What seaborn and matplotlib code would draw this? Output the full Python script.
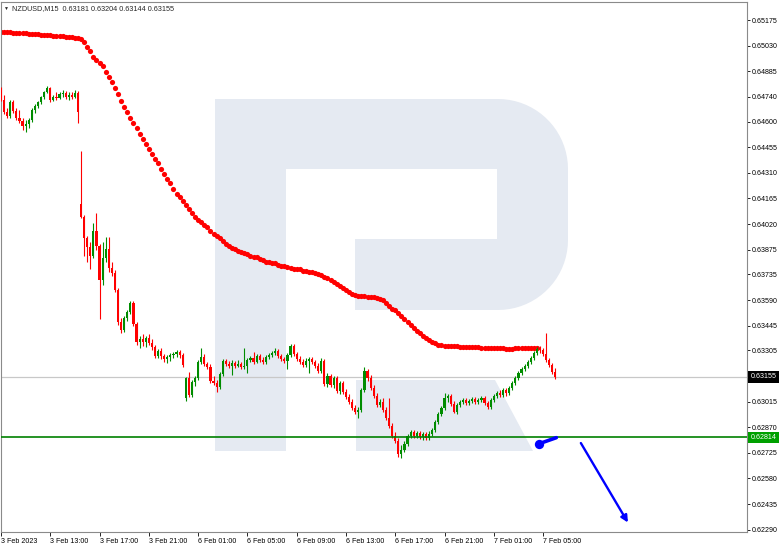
import matplotlib
matplotlib.use("Agg")
import matplotlib.pyplot as plt
from matplotlib.patches import Polygon
import numpy as np
import pandas as pd
import seaborn as sns

symbol = "NZDUSD,M15"

# M15 candles, 3 Feb 2023 09:00 -> 7 Feb 2023 06:00 (weekend skipped)
opens = [
    0.64779, 0.64722, 0.64654, 0.64631, 0.64711, 0.64659, 0.64620, 0.64603, 0.64575, 0.64586,
    0.64609, 0.64665, 0.64688, 0.64711, 0.64739, 0.64768, 0.64790, 0.64722, 0.64739, 0.64734,
    0.64756, 0.64762, 0.64739, 0.64751, 0.64739, 0.64762, 0.64133, 0.64059, 0.63941, 0.63890,
    0.63839, 0.63980, 0.63896, 0.63703, 0.63828, 0.63879, 0.63771, 0.63743, 0.63647, 0.63466,
    0.63420, 0.63488, 0.63522, 0.63573, 0.63454, 0.63353, 0.63369, 0.63353, 0.63375, 0.63347,
    0.63324, 0.63273, 0.63301, 0.63273, 0.63256, 0.63267, 0.63279, 0.63284, 0.63296, 0.63279,
    0.63036, 0.63149, 0.63053, 0.63126, 0.63149, 0.63239, 0.63267, 0.63227, 0.63210, 0.63131,
    0.63120, 0.63097, 0.63171, 0.63244, 0.63227, 0.63216, 0.63233, 0.63216, 0.63227, 0.63210,
    0.63216, 0.63250, 0.63262, 0.63239, 0.63273, 0.63250, 0.63239, 0.63267, 0.63279, 0.63290,
    0.63301, 0.63273, 0.63256, 0.63244, 0.63279, 0.63330, 0.63284, 0.63256, 0.63239, 0.63222,
    0.63244, 0.63256, 0.63239, 0.63216, 0.63188, 0.63244, 0.63114, 0.63160, 0.63109, 0.63149,
    0.63075, 0.63120, 0.63070, 0.63041, 0.63013, 0.62979, 0.62956, 0.62967, 0.63081, 0.63188,
    0.63149, 0.63092, 0.63047, 0.62996, 0.63013, 0.62967, 0.62922, 0.62877, 0.62820, 0.62792,
    0.62718, 0.62741, 0.62775, 0.62820, 0.62843, 0.62820, 0.62837, 0.62814, 0.62831, 0.62809,
    0.62831, 0.62854, 0.62899, 0.62944, 0.62979, 0.63036, 0.63047, 0.63001, 0.62956, 0.62996,
    0.63013, 0.63024, 0.63007, 0.63018, 0.63030, 0.63013, 0.63024, 0.63036, 0.63007, 0.62984,
    0.63024, 0.63047, 0.63064, 0.63053, 0.63081, 0.63064, 0.63092, 0.63120, 0.63149, 0.63177,
    0.63199, 0.63216, 0.63239, 0.63262, 0.63290, 0.63313, 0.63307, 0.63284, 0.63250, 0.63222,
    0.63181,
]
highs = [
    0.64795, 0.64751, 0.64677, 0.64722, 0.64722, 0.64677, 0.64665, 0.64620, 0.64609, 0.64620,
    0.64677, 0.64699, 0.64716, 0.64745, 0.64773, 0.64801, 0.64795, 0.64751, 0.64768, 0.64768,
    0.64779, 0.64773, 0.64768, 0.64768, 0.64779, 0.64773, 0.64433, 0.64071, 0.63952, 0.63919,
    0.64026, 0.64082, 0.63907, 0.63919, 0.63946, 0.63946, 0.63805, 0.63760, 0.63658, 0.63488,
    0.63499, 0.63533, 0.63584, 0.63584, 0.63466, 0.63386, 0.63397, 0.63386, 0.63397, 0.63369,
    0.63336, 0.63313, 0.63319, 0.63284, 0.63279, 0.63290, 0.63296, 0.63307, 0.63307, 0.63290,
    0.63154, 0.63182, 0.63137, 0.63160, 0.63250, 0.63319, 0.63284, 0.63239, 0.63227, 0.63160,
    0.63137, 0.63182, 0.63256, 0.63256, 0.63244, 0.63250, 0.63244, 0.63250, 0.63239, 0.63319,
    0.63262, 0.63273, 0.63296, 0.63284, 0.63284, 0.63267, 0.63279, 0.63290, 0.63301, 0.63319,
    0.63313, 0.63284, 0.63267, 0.63290, 0.63341, 0.63341, 0.63296, 0.63273, 0.63256, 0.63262,
    0.63267, 0.63267, 0.63250, 0.63233, 0.63262, 0.63256, 0.63177, 0.63171, 0.63160, 0.63160,
    0.63131, 0.63131, 0.63086, 0.63058, 0.63030, 0.62996, 0.62984, 0.63092, 0.63210, 0.63199,
    0.63166, 0.63109, 0.63064, 0.63030, 0.63036, 0.62984, 0.63036, 0.62894, 0.62843, 0.62809,
    0.62769, 0.62792, 0.62831, 0.62854, 0.62854, 0.62848, 0.62848, 0.62843, 0.62843, 0.62848,
    0.62866, 0.62911, 0.62956, 0.62990, 0.63064, 0.63058, 0.63058, 0.63018, 0.63007, 0.63024,
    0.63036, 0.63036, 0.63030, 0.63041, 0.63041, 0.63036, 0.63047, 0.63047, 0.63018, 0.63036,
    0.63058, 0.63075, 0.63081, 0.63092, 0.63092, 0.63103, 0.63131, 0.63160, 0.63188, 0.63210,
    0.63227, 0.63250, 0.63273, 0.63301, 0.63324, 0.63330, 0.63319, 0.63403, 0.63262, 0.63233,
    0.63204,
]
lows = [
    0.64716, 0.64642, 0.64620, 0.64620, 0.64648, 0.64609, 0.64592, 0.64552, 0.64541, 0.64564,
    0.64598, 0.64648, 0.64677, 0.64699, 0.64728, 0.64762, 0.64711, 0.64716, 0.64722, 0.64728,
    0.64739, 0.64728, 0.64722, 0.64728, 0.64734, 0.64592, 0.64054, 0.63839, 0.63805, 0.63765,
    0.63828, 0.63873, 0.63482, 0.63675, 0.63805, 0.63749, 0.63726, 0.63636, 0.63449, 0.63403,
    0.63409, 0.63471, 0.63510, 0.63443, 0.63336, 0.63319, 0.63330, 0.63324, 0.63336, 0.63307,
    0.63262, 0.63262, 0.63256, 0.63239, 0.63233, 0.63244, 0.63262, 0.63267, 0.63262, 0.63210,
    0.63018, 0.63041, 0.63041, 0.63103, 0.63137, 0.63227, 0.63216, 0.63199, 0.63120, 0.63109,
    0.63070, 0.63086, 0.63160, 0.63216, 0.63205, 0.63166, 0.63205, 0.63210, 0.63199, 0.63199,
    0.63177, 0.63239, 0.63227, 0.63233, 0.63239, 0.63227, 0.63227, 0.63256, 0.63267, 0.63279,
    0.63262, 0.63244, 0.63233, 0.63199, 0.63267, 0.63273, 0.63244, 0.63227, 0.63210, 0.63210,
    0.63177, 0.63227, 0.63205, 0.63177, 0.63177, 0.63103, 0.63097, 0.63097, 0.63092, 0.63064,
    0.63058, 0.63058, 0.63030, 0.63001, 0.62967, 0.62944, 0.62922, 0.62956, 0.63070, 0.63131,
    0.63081, 0.63036, 0.62984, 0.62984, 0.62956, 0.62911, 0.62866, 0.62809, 0.62781, 0.62701,
    0.62696, 0.62730, 0.62764, 0.62809, 0.62809, 0.62809, 0.62803, 0.62798, 0.62798, 0.62798,
    0.62820, 0.62843, 0.62888, 0.62933, 0.62967, 0.63013, 0.62990, 0.62950, 0.62944, 0.62984,
    0.63001, 0.62996, 0.62996, 0.63007, 0.63001, 0.63001, 0.63013, 0.62996, 0.62973, 0.62973,
    0.63013, 0.63036, 0.63041, 0.63041, 0.63047, 0.63053, 0.63081, 0.63109, 0.63137, 0.63166,
    0.63188, 0.63205, 0.63227, 0.63250, 0.63279, 0.63290, 0.63273, 0.63239, 0.63210, 0.63171,
    0.63144,
]
closes = [
    0.64722, 0.64654, 0.64631, 0.64711, 0.64659, 0.64620, 0.64603, 0.64575, 0.64586, 0.64609,
    0.64665, 0.64688, 0.64711, 0.64739, 0.64768, 0.64790, 0.64722, 0.64739, 0.64734, 0.64756,
    0.64762, 0.64739, 0.64751, 0.64739, 0.64762, 0.64654, 0.64059, 0.63941, 0.63890, 0.63839,
    0.63980, 0.63896, 0.63703, 0.63828, 0.63879, 0.63771, 0.63743, 0.63647, 0.63466, 0.63420,
    0.63488, 0.63522, 0.63573, 0.63454, 0.63353, 0.63369, 0.63353, 0.63375, 0.63347, 0.63324,
    0.63273, 0.63301, 0.63273, 0.63256, 0.63267, 0.63279, 0.63284, 0.63296, 0.63279, 0.63222,
    0.63149, 0.63053, 0.63126, 0.63149, 0.63239, 0.63267, 0.63227, 0.63210, 0.63131, 0.63120,
    0.63097, 0.63171, 0.63244, 0.63227, 0.63216, 0.63233, 0.63216, 0.63227, 0.63210, 0.63216,
    0.63250, 0.63262, 0.63239, 0.63273, 0.63250, 0.63239, 0.63267, 0.63279, 0.63290, 0.63301,
    0.63273, 0.63256, 0.63244, 0.63279, 0.63330, 0.63284, 0.63256, 0.63239, 0.63222, 0.63244,
    0.63256, 0.63239, 0.63216, 0.63188, 0.63244, 0.63114, 0.63160, 0.63109, 0.63149, 0.63075,
    0.63120, 0.63070, 0.63041, 0.63013, 0.62979, 0.62956, 0.62967, 0.63081, 0.63188, 0.63149,
    0.63092, 0.63047, 0.62996, 0.63013, 0.62967, 0.62922, 0.62877, 0.62820, 0.62792, 0.62718,
    0.62741, 0.62775, 0.62820, 0.62843, 0.62820, 0.62837, 0.62814, 0.62831, 0.62809, 0.62831,
    0.62854, 0.62899, 0.62944, 0.62979, 0.63036, 0.63047, 0.63001, 0.62956, 0.62996, 0.63013,
    0.63024, 0.63007, 0.63018, 0.63030, 0.63013, 0.63024, 0.63036, 0.63007, 0.62984, 0.63024,
    0.63047, 0.63064, 0.63053, 0.63081, 0.63064, 0.63092, 0.63120, 0.63149, 0.63177, 0.63199,
    0.63216, 0.63239, 0.63262, 0.63290, 0.63313, 0.63307, 0.63284, 0.63250, 0.63222, 0.63182,
    0.63155,
]
# moving average (red dots), one value per bar
ma = [
    0.65107, 0.65107, 0.65107, 0.65107, 0.65104, 0.65101, 0.65101, 0.65101, 0.65101, 0.65098,
    0.65096, 0.65096, 0.65096, 0.65093, 0.65090, 0.65090, 0.65090, 0.65087, 0.65084, 0.65084,
    0.65084, 0.65081, 0.65079, 0.65079, 0.65076, 0.65073, 0.65067, 0.65050, 0.65025, 0.64997,
    0.64968, 0.64951, 0.64931, 0.64912, 0.64883, 0.64855, 0.64824, 0.64793, 0.64756, 0.64716,
    0.64685, 0.64654, 0.64620, 0.64592, 0.64566, 0.64532, 0.64504, 0.64476, 0.64447, 0.64416,
    0.64391, 0.64363, 0.64334, 0.64303, 0.64275, 0.64252, 0.64221, 0.64193, 0.64173, 0.64150,
    0.64128, 0.64105, 0.64082, 0.64059, 0.64043, 0.64029, 0.64017, 0.64003, 0.63983, 0.63966,
    0.63955, 0.63941, 0.63927, 0.63910, 0.63898, 0.63887, 0.63879, 0.63870, 0.63862, 0.63856,
    0.63848, 0.63842, 0.63836, 0.63831, 0.63822, 0.63816, 0.63808, 0.63805, 0.63799, 0.63797,
    0.63791, 0.63785, 0.63782, 0.63777, 0.63774, 0.63768, 0.63765, 0.63763, 0.63757, 0.63754,
    0.63751, 0.63748, 0.63743, 0.63740, 0.63731, 0.63723, 0.63713, 0.63703, 0.63692, 0.63681,
    0.63669, 0.63658, 0.63647, 0.63635, 0.63627, 0.63621, 0.63615, 0.63613, 0.63613, 0.63610,
    0.63610, 0.63607, 0.63601, 0.63596, 0.63590, 0.63573, 0.63556, 0.63542, 0.63531, 0.63516,
    0.63499, 0.63483, 0.63465, 0.63449, 0.63432, 0.63417, 0.63403, 0.63389, 0.63375, 0.63364,
    0.63352, 0.63344, 0.63338, 0.63335, 0.63332, 0.63332, 0.63330, 0.63330, 0.63330, 0.63327,
    0.63327, 0.63324, 0.63324, 0.63324, 0.63324, 0.63324, 0.63321, 0.63321, 0.63321, 0.63321,
    0.63318, 0.63318, 0.63318, 0.63318, 0.63315, 0.63315, 0.63315, 0.63318, 0.63318, 0.63318,
    0.63318, 0.63318, 0.63318, 0.63318, 0.63318,
]

price_ticks = [0.65175, 0.65030, 0.64885, 0.64740, 0.64600, 0.64455, 0.64310, 0.64165,
               0.64020, 0.63875, 0.63735, 0.63590, 0.63445, 0.63305, 0.63015, 0.62870,
               0.62725, 0.62580, 0.62435, 0.62290]
support_level = 0.62814

# forecast arrow and hand-drawn mark (bar index, price)
arrow_start = (187.8, 0.62794)
arrow_end = (204.0, 0.62317)
mark_start = (174.6, 0.62776)
mark_end = (180.3, 0.62811)

RED = "#ff0000"
GREEN = "#008c00"
WM = "#e5eaf2"

sns.set_style("white")
plt.rcParams["font.family"] = ["Liberation Sans", "DejaVu Sans"]

W, H = 782, 549
fig = plt.figure(figsize=(W / 100, H / 100), dpi=100)
ax = fig.add_axes([0.5 / W, (H - 532) / H, 746.5 / W, 530 / H])
ax.set_facecolor("white")

# time axis
friday = pd.date_range("2023-02-03 09:00", periods=60, freq="15min")
monday = pd.date_range("2023-02-06 00:00", periods=len(closes) - 60, freq="15min")
times = friday.append(monday)

df = pd.DataFrame({"open": opens, "high": highs, "low": lows, "close": closes})
df["bar"] = np.arange(len(df))
up = df["close"] >= df["open"]
colors = np.where(up, GREEN, RED)

# watermark "R" in figure pixels
def px(pts):
    return [(x / W, 1 - y / H) for x, y in pts]

t1 = np.linspace(np.pi / 2, 0, 20)
t2 = np.linspace(0, -np.pi / 2, 20)
bowl = [(497, 99)] + [(498 + 70 * np.cos(t), 169 - 70 * np.sin(t)) for t in t1] \
    + [(498 + 70 * np.cos(t), 240 - 70 * np.sin(t)) for t in t2] + [(497, 310)]
shapes = [
    [(215, 99), (286, 99), (286, 451), (215, 451)],
    [(285, 99), (499, 99), (499, 169), (285, 169)],
    [(355, 239), (499, 239), (499, 310), (355, 310)],
    bowl,
    [(356, 380), (495, 380), (533, 451), (356, 451)],
]
for s in shapes:
    ax.add_patch(Polygon(px(s), closed=True, transform=fig.transFigure,
                         fc=WM, ec="none", zorder=0))

# current price line
ax.axhline(closes[-1], color="#c8c8c8", lw=0.9, zorder=1)

# moving average dots
sns.scatterplot(x=np.arange(len(ma)), y=ma, color=RED, s=14, linewidth=0,
                ax=ax, zorder=2, legend=False)

# candles
ax.vlines(df["bar"], df["low"], df["high"], colors=colors, lw=0.8, zorder=3)
body = (df["close"] - df["open"]).abs().clip(lower=0.00005)
ax.bar(df["bar"], body, bottom=df[["open", "close"]].min(axis=1), width=0.7,
       color=colors, lw=0, zorder=4)

ax.axhline(support_level, color="#008000", lw=1.2, zorder=5)

# blue drawings
ax.plot([mark_start[0], mark_end[0]], [mark_start[1], mark_end[1]], color="#0000ff",
        lw=2.6, solid_capstyle="round", zorder=6)
ax.scatter([mark_start[0]], [mark_start[1]], s=45, color="#0000ff", lw=0, zorder=6)
ax.annotate("", xy=arrow_end, xytext=arrow_start,
            arrowprops=dict(arrowstyle="-|>", color="#0000ff", lw=1.7, mutation_scale=10),
            zorder=6)

ax.set_xlim(-0.16, 242.2)
ax.set_ylim(0.62277, 0.65277)

# axes styling
for side in ["left", "right", "top", "bottom"]:
    ax.spines[side].set_color("#8a8a8a")
    ax.spines[side].set_linewidth(0.8)

tick_idx = [i for i, t in enumerate(times) if t.minute == 0 and t.hour % 4 == 1]
tick_lbl = []
for k, i in enumerate(tick_idx):
    t = times[i]
    tick_lbl.append(f"{t.day} {t:%b %Y}" if k == 0 else f"{t.day} {t:%b %H:%M}")
ax.set_xticks(tick_idx)
ax.set_xticklabels(tick_lbl, ha="left")

ax.yaxis.tick_right()
ax.set_yticks(price_ticks)
ax.set_yticklabels([f"{p:.5f}" for p in price_ticks])
ax.tick_params(axis="x", direction="out", length=3, width=0.6, pad=1.5,
               labelsize=5.1, colors="black", bottom=True)
ax.tick_params(axis="y", direction="out", length=2.2, width=0.6, pad=1.5,
               labelsize=5.1, colors="black", right=True, left=False)
ax.set_xlabel("")
ax.set_ylabel("")

# price tags on the right scale
ytr = ax.get_yaxis_transform()
ax.text(1 + 3.5 / 746.5, closes[-1], f"{closes[-1]:.5f}", transform=ytr, ha="left",
        va="center", fontsize=5.1, color="white", clip_on=False, zorder=10,
        bbox=dict(boxstyle="square,pad=0.3", fc="black", ec="none"))
ax.text(1 + 3.5 / 746.5, support_level, f"{support_level:.5f}", transform=ytr, ha="left",
        va="center", fontsize=5.1, color="white", clip_on=False, zorder=10,
        bbox=dict(boxstyle="square,pad=0.3", fc="#00a000", ec="none"))

# header
fig.text(4 / W, 1 - 8.5 / H, "\u25bc", fontsize=3.6, va="center", ha="left")
header = f"{symbol}  {opens[-1]:.5f} {highs[-1]:.5f} {lows[-1]:.5f} {closes[-1]:.5f}"
fig.text(12 / W, 1 - 8.5 / H, header, fontsize=5.2, va="center", ha="left")

fig.savefig("out.png", dpi=100, facecolor="white")
